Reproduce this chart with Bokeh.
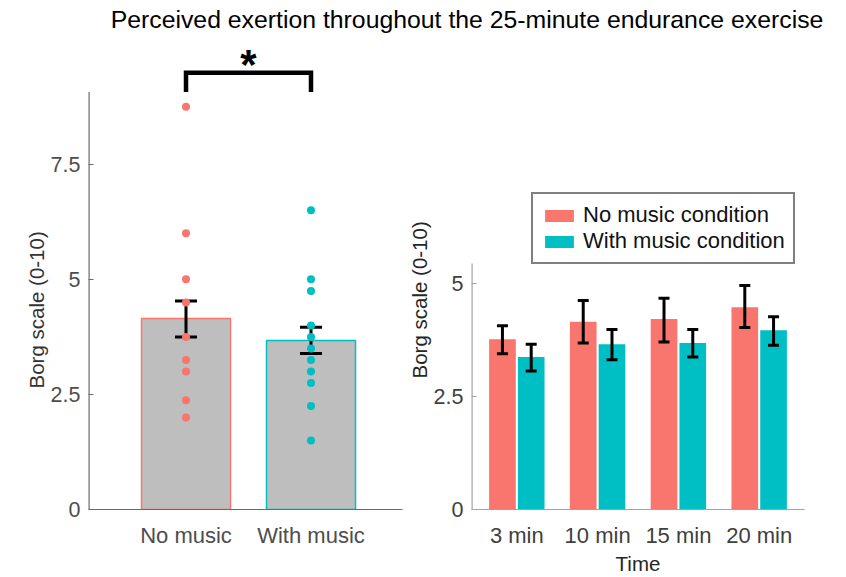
from bokeh.plotting import figure
from bokeh.layouts import column, row
from bokeh.models import FixedTicker, Legend, LegendItem, Range1d, Title
from bokeh.core.properties import value
from bokeh.embed import file_html
from bokeh.resources import INLINE

# ---------------- data ----------------
title_text = "Perceived exertion throughout the 25-minute endurance exercise"

conditions = ["No music", "With music"]
overall_mean = [4.15, 3.67]
overall_err_low = [3.75, 3.39]
overall_err_high = [4.53, 3.96]
no_music_points = [8.75, 6.0, 5.0, 4.5, 3.75, 3.25, 3.0, 2.375, 2.0]
with_music_points = [6.5, 5.0, 4.75, 4.0, 3.75, 3.5, 3.25, 3.0, 2.75, 2.25, 1.5]
sig_label = "*"
sig_base = 9.07
sig_top = 9.49
sig_label_y = 9.67
left_y_ticks = [0, 2.5, 5, 7.5]
left_y_limit = 9.07
left_y_label = "Borg scale (0-10)"

time_labels = ["3 min", "10 min", "15 min", "20 min"]
time_no_music = [3.77, 4.16, 4.22, 4.48]
time_no_music_low = [3.45, 3.69, 3.71, 4.03]
time_no_music_high = [4.07, 4.63, 4.68, 4.96]
time_with_music = [3.38, 3.66, 3.69, 3.97]
time_with_music_low = [3.07, 3.32, 3.38, 3.64]
time_with_music_high = [3.66, 3.99, 3.99, 4.27]
right_y_ticks = [0, 2.5, 5]
right_y_limit = 5.45
right_y_label = "Borg scale (0-10)"
right_x_label = "Time"
legend_labels = ["No music condition", "With music condition"]

# ---------------- style ----------------
FONT = "Liberation Sans"
RED = "#F8766D"
TEAL = "#00BFC4"
GRAY = "#BEBEBE"

LEFT_X = (0.22, 2.732)
LEFT_Y = (0, 10.19)
RIGHT_X = (0.439, 4.561)
RIGHT_Y = (0, 10.39)


def style(p, axis_color, label_color, tick_label_color):
    p.xgrid.visible = False
    p.ygrid.visible = False
    p.outline_line_color = None
    p.background_fill_color = "white"
    p.border_fill_color = "white"
    for ax in p.yaxis:
        ax.axis_line_color = None
        ax.major_tick_in = 5
        ax.major_tick_out = 0
        ax.major_tick_line_color = axis_color
        ax.minor_tick_line_color = None
        ax.major_label_text_font = FONT
        ax.major_label_text_font_size = "21.5px"
        ax.major_label_text_color = tick_label_color
        ax.major_label_standoff = 8
    for ax in p.xaxis:
        ax.axis_line_color = axis_color
        ax.axis_line_width = 1.2
        ax.major_tick_line_color = None
        ax.minor_tick_line_color = None
        ax.major_label_text_font = FONT
        ax.major_label_text_font_size = "22px"
        ax.major_label_text_color = tick_label_color
        ax.major_label_standoff = 7
        ax.axis_label_text_font = FONT
        ax.axis_label_text_font_size = "20.5px"
        ax.axis_label_text_font_style = "normal"
        ax.axis_label_text_color = label_color
        ax.axis_label_standoff = 1


def side_label(p, text, color, offset):
    # vertical label, its start placed `offset` px above the frame bottom
    p.add_layout(Title(text=text, align="left", offset=offset, text_font=FONT,
                       text_font_size="20.5px", text_font_style="normal",
                       text_color=color, standoff=0), "left")


# ---------------- title ----------------
pt = figure(width=846, height=38, x_range=Range1d(0, 846), y_range=Range1d(0, 38),
            output_backend="svg", toolbar_location=None, min_border=0,
            x_axis_location=None, y_axis_location=None)
pt.xgrid.visible = False
pt.ygrid.visible = False
pt.outline_line_color = None
pt.text(x=[466.5], y=[19.5], text=[title_text], text_align="center",
        text_baseline="middle", text_font=value(FONT), text_font_size="24.8px",
        text_color="black")

# ---------------- left panel ----------------
p1 = figure(width=405, height=539, x_range=Range1d(*LEFT_X), y_range=Range1d(*LEFT_Y),
            output_backend="svg", toolbar_location=None,
            min_border_left=88, min_border_right=3, min_border_top=2, min_border_bottom=56)
style(p1, "#6b6b6b", "#333333", "#4d4d4d")
p1.yaxis.ticker = FixedTicker(ticks=left_y_ticks)
p1.yaxis.major_label_overrides = {t: f"{t:g}" for t in left_y_ticks}
side_label(p1, left_y_label, "#333333", 121)
xs = list(range(1, len(conditions) + 1))
p1.xaxis.ticker = FixedTicker(ticks=xs)
p1.xaxis.major_label_overrides = {x: c for x, c in zip(xs, conditions)}

# y axis line up to the axes limit
p1.segment(x0=[LEFT_X[0]], y0=[0], x1=[LEFT_X[0]], y1=[left_y_limit],
           line_color="#6b6b6b", line_width=2.4)

p1.vbar(x=xs, top=overall_mean, width=0.712, fill_color=GRAY,
        line_color=[RED, TEAL], line_width=1.5)
p1.segment(x0=xs, y0=overall_err_low, x1=xs, y1=overall_err_high,
           line_color="black", line_width=3)
p1.scatter(x=xs + xs, y=overall_err_low + overall_err_high, marker="dash",
           size=22, line_color="black", line_width=3)
p1.scatter(x=[xs[0]] * len(no_music_points), y=no_music_points, size=8,
           fill_color=RED, line_color=None)
p1.scatter(x=[xs[1]] * len(with_music_points), y=with_music_points, size=8,
           fill_color=TEAL, line_color=None)
p1.line(x=[xs[0], xs[0], xs[1], xs[1]], y=[sig_base, sig_top, sig_top, sig_base],
        line_color="black", line_width=4.5, line_join="miter")
p1.text(x=[(xs[0] + xs[1]) / 2], y=[sig_label_y], text=[sig_label],
        text_align="center", text_baseline="middle", text_font=value(FONT),
        text_font_style="bold", text_font_size="42px", text_color="black")

# ---------------- right panel ----------------
p2 = figure(width=441, height=539, x_range=Range1d(*RIGHT_X), y_range=Range1d(*RIGHT_Y),
            output_backend="svg", toolbar_location=None,
            min_border_left=61, min_border_right=42, min_border_top=2, min_border_bottom=55)
style(p2, "#a3a3a3", "#262626", "#404040")
p2.yaxis.ticker = FixedTicker(ticks=right_y_ticks)
p2.yaxis.major_label_overrides = {t: f"{t:g}" for t in right_y_ticks}
side_label(p2, right_y_label, "#262626", 131)
gx = list(range(1, len(time_labels) + 1))
p2.xaxis.ticker = FixedTicker(ticks=gx)
p2.xaxis.major_label_overrides = {x: t for x, t in zip(gx, time_labels)}
p2.xaxis.axis_label = right_x_label

p2.segment(x0=[RIGHT_X[0]], y0=[0], x1=[RIGHT_X[0]], y1=[right_y_limit],
           line_color="#a3a3a3", line_width=2.4)

OFF = 0.178
BW = 0.33
x_red = [g - OFF for g in gx]
x_teal = [g + OFF for g in gx]
r_red = p2.vbar(x=x_red, top=time_no_music, width=BW, fill_color=RED, line_color=None)
r_teal = p2.vbar(x=x_teal, top=time_with_music, width=BW, fill_color=TEAL, line_color=None)
for xv, lo, hi in ((x_red, time_no_music_low, time_no_music_high),
                   (x_teal, time_with_music_low, time_with_music_high)):
    p2.segment(x0=xv, y0=lo, x1=xv, y1=hi, line_color="black", line_width=3)
    p2.scatter(x=xv + xv, y=lo + hi, marker="dash", size=11,
               line_color="black", line_width=3)

legend = Legend(items=[LegendItem(label=legend_labels[0], renderers=[r_red]),
                       LegendItem(label=legend_labels[1], renderers=[r_teal])],
                location=(60, 245), margin=0, padding=8, spacing=0,
                label_height=22, glyph_height=15, glyph_width=36, label_standoff=6,
                label_text_font=FONT, label_text_font_size="22px",
                label_text_color="#111111",
                border_line_color="black", border_line_width=2.5,
                background_fill_color="white", background_fill_alpha=1.0)
p2.add_layout(legend)

layout = column(pt, row(p1, p2))
open("out.html", "w").write(file_html(layout, INLINE))
